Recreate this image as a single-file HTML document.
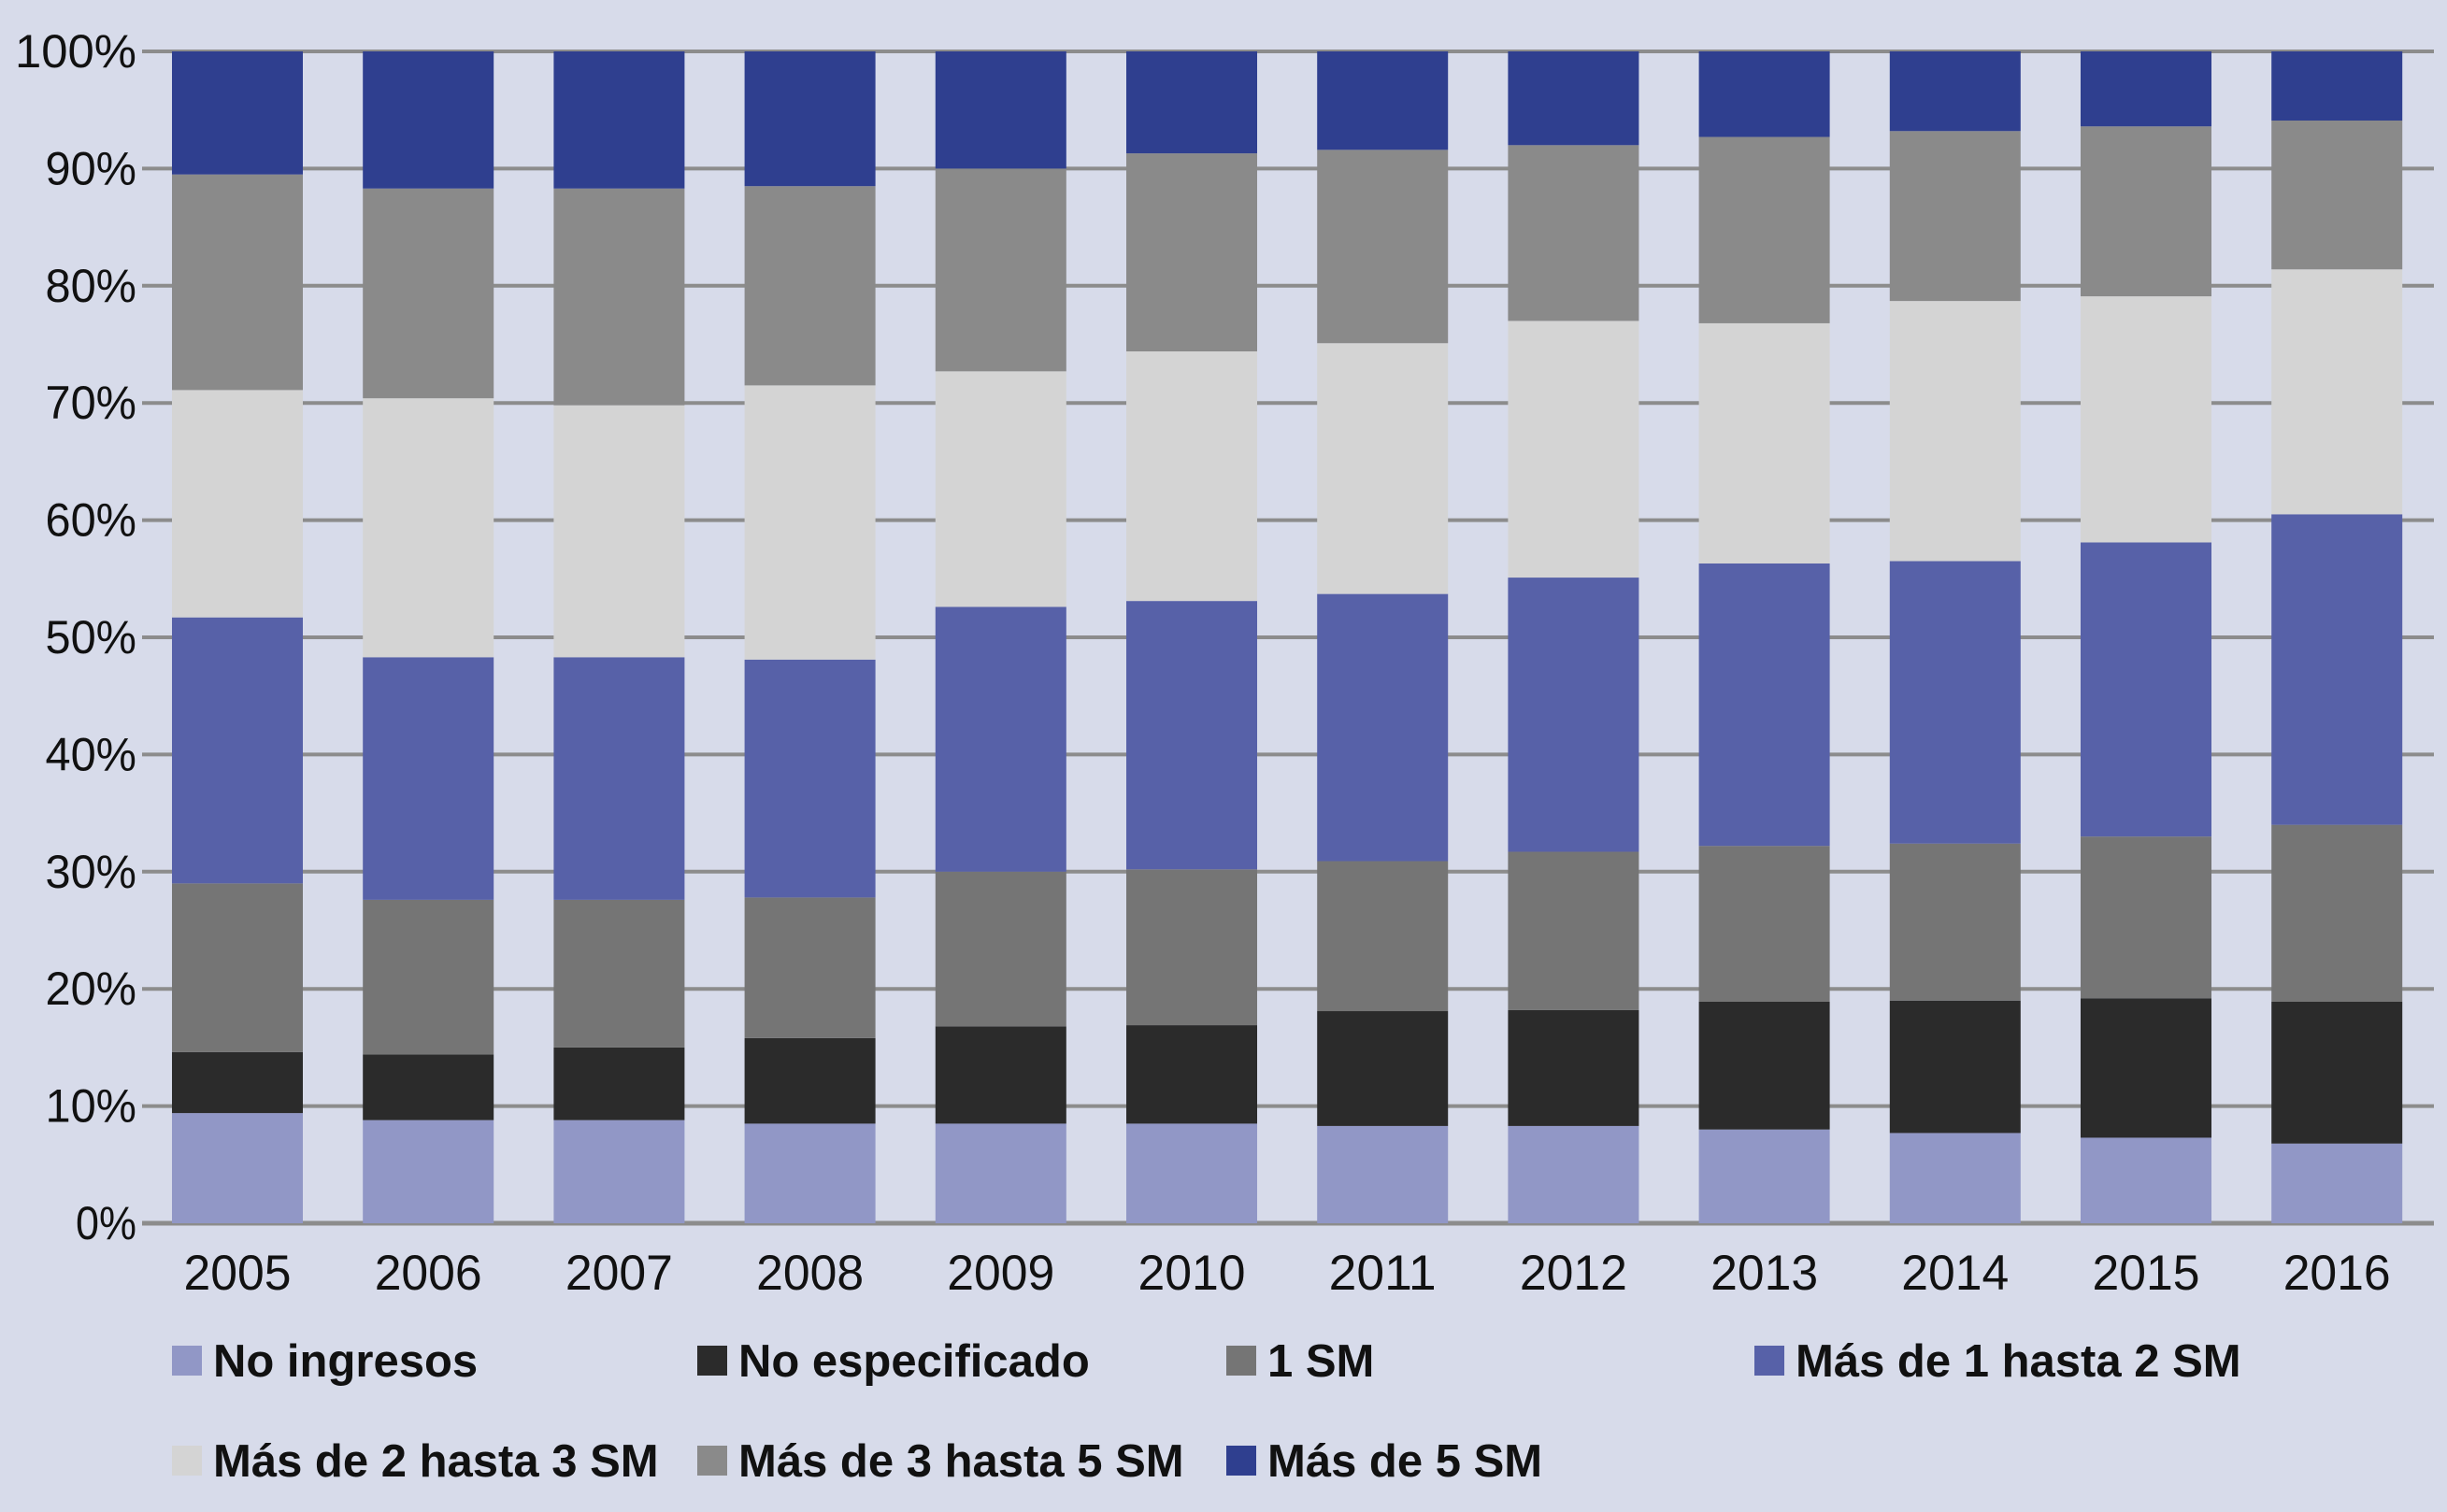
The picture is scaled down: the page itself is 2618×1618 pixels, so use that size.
<!DOCTYPE html>
<html><head><meta charset="utf-8"><style>
html,body{margin:0;padding:0;background:#d7dbea;}
svg{display:block;}
text{font-family:"Liberation Sans Narrow","Liberation Sans",sans-serif;}
</style></head><body>
<svg id="chart" width="2618" height="1618" viewBox="0 0 2618 1618" xmlns="http://www.w3.org/2000/svg">
<rect width="2618" height="1618" fill="#d7dbea"/>
<g id="grid"></g><g id="bars"></g><g id="axes"></g><g id="legend"></g>
</svg>
<script>
const categories = ["2005","2006","2007","2008","2009","2010","2011","2012","2013","2014","2015","2016"];
const seriesNames = ["No ingresos","No especificado","1 SM","Más de 1 hasta 2 SM","Más de 2 hasta 3 SM","Más de 3 hasta 5 SM","Más de 5 SM"];
const noIngresos = [9.4,8.8,8.8,8.5,8.5,8.5,8.3,8.3,8.0,7.7,7.3,6.8];
const noEspecificado = [5.2,5.6,6.2,7.3,8.3,8.4,9.8,9.9,10.9,11.3,11.9,12.1];
const unSM = [14.4,13.2,12.6,12.0,13.2,13.3,12.8,13.5,13.3,13.4,13.8,15.1];
const de1a2 = [22.7,20.7,20.7,20.3,22.6,22.9,22.8,23.4,24.1,24.1,25.1,26.5];
const de2a3 = [19.4,22.1,21.5,23.4,20.1,21.3,21.4,21.9,20.5,22.2,21.0,20.9];
const de3a5 = [18.4,17.9,18.5,17.0,17.3,16.9,16.5,15.0,15.9,14.5,14.5,12.7];
const mas5 = [10.5,11.7,11.7,11.5,10.0,8.7,8.4,8.0,7.3,6.8,6.4,5.9];
const yTicks = [0,10,20,30,40,50,60,70,80,90,100];

const series = [noIngresos,noEspecificado,unSM,de1a2,de2a3,de3a5,mas5];
const colors = ["#9197c6","#2b2b2b","#757575","#5761a8","#d4d4d4","#8a8a8a","#2f3f8f"];
const NS="http://www.w3.org/2000/svg";
const y0=1309,y1=55,plotL=152,plotR=2604,firstX=184,pitch=204.2,bw=140;
function yScale(v){return y0-(v/100)*(y0-y1);}
function xScale(i){return firstX+i*pitch;}
function mk(tag,attrs,parent){const e=document.createElementNS(NS,tag);for(const k in attrs)e.setAttribute(k,attrs[k]);parent.appendChild(e);return e;}
const grid=document.getElementById('grid'),bars=document.getElementById('bars'),axes=document.getElementById('axes'),legend=document.getElementById('legend');
yTicks.forEach(t=>{
  const l=mk('line',{x1:plotL,x2:plotR,y1:yScale(t),y2:yScale(t),stroke:'#8c8c8c','stroke-width':t===0?5:4},grid);
  
  
  const label=t+'%';
  const tx=mk('text',{x:146,y:yScale(t)+17,'text-anchor':'end','font-size':50,fill:'#111',textLength:label.length*32.5,lengthAdjust:'spacingAndGlyphs'},axes);
  tx.textContent=label;
  
  
});
categories.forEach((c,i)=>{
  let cum=0;
  series.forEach((s,j)=>{
    const top=cum+s[i];
    const r=mk('rect',{x:xScale(i),y:yScale(top),width:bw,height:yScale(cum)-yScale(top),fill:colors[j]},bars);
    
    
    cum=top;
  });
  const tx=mk('text',{x:xScale(i)+bw/2,y:1380,'text-anchor':'middle','font-size':53,fill:'#111',textLength:115,lengthAdjust:'spacingAndGlyphs'},axes);
  tx.textContent=c;
  
  
});
const legX=[184,746,1312,1877,184,746,1312],legY=[1456,1456,1456,1456,1563,1563,1563];
seriesNames.forEach((n,j)=>{
  const g=mk('g',{},legend);
  
  
  mk('rect',{x:legX[j],y:legY[j]-16,width:32,height:32,fill:colors[j]},g);
  const t=mk('text',{x:legX[j]+44,y:legY[j]+17,'font-size':49,'font-weight':'bold',fill:'#111'},g);
  t.textContent=n;
});
</script>
</body></html>
